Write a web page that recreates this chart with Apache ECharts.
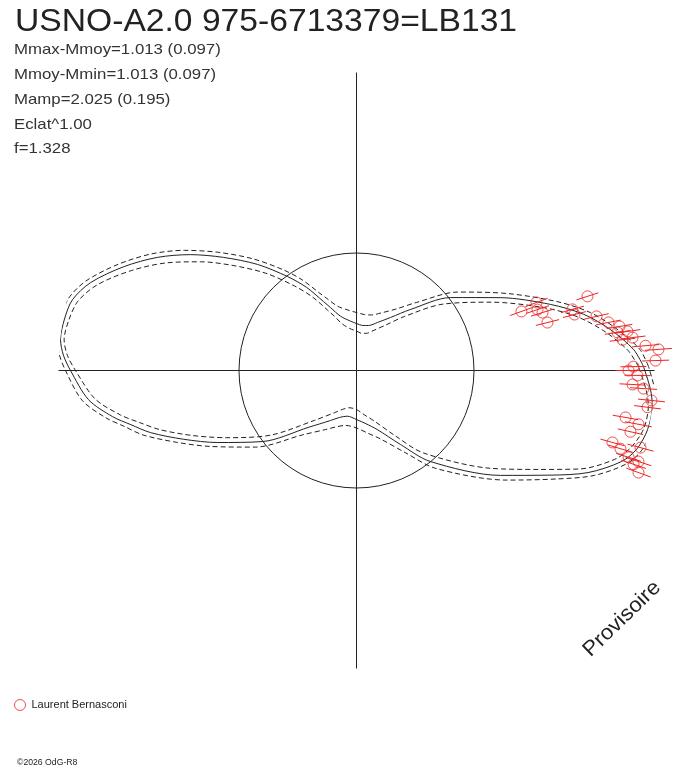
<!DOCTYPE html>
<html>
<head>
<meta charset="utf-8">
<script src="https://cdn.jsdelivr.net/npm/echarts@6/dist/echarts.min.js"></script>
<style>
html,body{margin:0;padding:0;background:#fff;}
#chart{width:688px;height:768px;}
</style>
</head>
<body>
<div id="chart"></div>
<script>
// ---- data (radius in chart units, angle in degrees, counter-clockwise from east) ----
const modelAngles = [0.8, 4.3, 9.2, 13.9, 18.8, 26.9, 37.8, 48.5, 57.3, 66.4, 75, 82, 90, 96.9, 106.4, 112.4, 115.6, 121, 126.3, 133, 139.6, 145.1, 150.4, 156, 161.7, 166, 170, 174, 177, 180, 186.2, 190.7, 193.5, 196.8, 201.7, 207.4, 217.1, 230, 242.5, 250, 258.5, 270, 280, 289.3, 300.7, 309, 323.9, 331.6, 336.2, 341, 344.3, 348.5, 353.1, 356.3];
const modelRadius = [287, 278, 257, 234, 205, 161, 119, 81.5, 63, 52.4, 46.6, 45.5, 47, 49.7, 56.6, 68, 76.5, 97, 116.6, 145, 174.5, 202.5, 229, 255, 280, 292.7, 296.5, 297.6, 293.5, 286, 269.6, 248.3, 232, 215, 186, 156.5, 117.8, 74, 56.4, 50, 46.6, 49, 54, 62.5, 86, 117, 178, 220, 253, 280, 291, 297, 298, 294.6];
const upperRadius = [292, 284, 263, 241, 213, 170, 128, 91, 73, 63, 57.5, 56.5, 58, 60.5, 67, 78, 86, 106, 125.5, 153, 182.5, 210, 236, 261, 285, 297, 300, 301, 297.5, 291, 276, 255, 239, 223, 194, 165, 127, 84, 66.5, 60, 56, 57.5, 63.5, 72.5, 95.5, 126, 186, 228, 260, 286, 296, 301, 302, 299];
const lowerRadius = [282, 272, 250, 226, 196, 151, 108, 72, 54, 44, 38.5, 37.5, 39.5, 41.5, 48, 59, 67, 86, 105, 133, 162, 190, 218, 246, 273, 287, 292, 294, 289.5, 281, 263, 240, 223, 205, 176, 146, 107, 65, 47.5, 41.5, 38, 39, 45, 53.5, 76, 106, 166, 208, 244, 273, 285, 293, 294, 290];

const obsAngle = [17.8, 19.7, 20.7, 17.3, 14.1, 18.6, 15.8, 14.4, 12.7, 10.8, 8.3, 9.5, 6.6, 8.2, 6.8, 4.9, 4.0, 1.9, 0.8, 0, 359.0, 357.1, 356.4, 354.2, 352.8, 350.1, 349.2, 347.4, 344.3, 343.5, 344.8, 342.3, 342.1, 341.3, 340.1];
const obsRadius = [242.6, 175.2, 192.4, 194.8, 196.9, 191, 224.4, 225.1, 246, 256.5, 263.8, 266.7, 267.8, 273.8, 278, 290.1, 302.7, 299.2, 277, 272, 281, 276.4, 287.6, 296.5, 293.3, 273.1, 287.1, 280.7, 265.9, 275.3, 294.3, 285.6, 296.3, 292.5, 299.9];
const obsError = [11.5, 12, 12, 12, 12, 12, 12, 12, 12.5, 12.5, 13, 13, 13, 13, 13, 13.5, 13.5, 13.5, 13, 13, 13, 13, 13.5, 13.5, 13.5, 13, 13.5, 13, 12.5, 13, 13.5, 13, 13.5, 13, 13];

const referenceCircle = 117.5;
const axisExtent = 298;

const titleText = 'USNO-A2.0 975-6713379=LB131';
const infoLines = ['Mmax-Mmoy=1.013 (0.097)', 'Mmoy-Mmin=1.013 (0.097)', 'Mamp=2.025 (0.195)', 'Eclat^1.00', 'f=1.328'];
const observer = 'Laurent Bernasconi';
const footer = '\u00A92026 OdG-R8';
const stamp = 'Provisoire';

// ---- build series data ----
function closedCurve(radii) {
  const d = modelAngles.map((a, i) => [radii[i], a]);
  d.push([radii[0], modelAngles[0] + 360]);
  return d;
}
const obsData = obsAngle.map((a, i) => [obsRadius[i], a, obsError[i]]);

const FONT = '"Liberation Sans", Arial, sans-serif';
const INK = '#222';
const RED = '#ee2222';

const chart = echarts.init(document.getElementById('chart'), null, {renderer: 'canvas'});

const graphics = [
  {type: 'text', x: 15, y: 22, scaleX: 1.085, scaleY: 1,
   style: {text: titleText, font: '31px ' + FONT, fill: INK, textAlign: 'left', textVerticalAlign: 'middle', align: 'left', verticalAlign: 'middle'}}
];
infoLines.forEach((t, i) => {
  graphics.push({type: 'text', x: 14, y: 50 + i * 24.8, scaleX: 1.12, scaleY: 1,
    style: {text: t, font: '15px ' + FONT, fill: '#333', textAlign: 'left', textVerticalAlign: 'middle', align: 'left', verticalAlign: 'middle'}});
});
graphics.push({type: 'text', x: 622, y: 619, rotation: 0.77, scaleX: 1.06, scaleY: 1,
  style: {text: stamp, font: '21px ' + FONT, fill: INK, textAlign: 'center', textVerticalAlign: 'middle', align: 'center', verticalAlign: 'middle'}});
graphics.push({type: 'text', x: 17, y: 763, scaleX: 1.02, scaleY: 1,
  style: {text: footer, font: '8.5px ' + FONT, fill: INK, textAlign: 'left', textVerticalAlign: 'middle', align: 'left', verticalAlign: 'middle'}});

const option = {
  animation: false,
  backgroundColor: '#ffffff',
  graphic: graphics,
  legend: {
    left: 14, top: 699, padding: 0,
    itemWidth: 13, itemHeight: 11,
    icon: 'circle',
    textStyle: {fontSize: 11, fontFamily: FONT, color: INK},
    data: [{name: observer, itemStyle: {color: 'rgba(0,0,0,0)', borderColor: RED, borderWidth: 1}}]
  },
  polar: {center: [356.5, 370.5], radius: axisExtent},
  angleAxis: {
    type: 'value', min: 0, max: 360, interval: 90, startAngle: 0, clockwise: false,
    axisLine: {show: false}, axisTick: {show: false}, axisLabel: {show: false},
    splitLine: {show: true, lineStyle: {color: INK, width: 1}}
  },
  radiusAxis: {
    type: 'value', min: 0, max: axisExtent, interval: referenceCircle,
    axisLine: {show: false}, axisTick: {show: false}, axisLabel: {show: false},
    splitLine: {show: true, lineStyle: {color: ['rgba(0,0,0,0)', INK, 'rgba(0,0,0,0)', 'rgba(0,0,0,0)'], width: 1}}
  },
  series: [
    {type: 'line', name: 'model', coordinateSystem: 'polar', data: closedCurve(modelRadius), smooth: 0.3,
     showSymbol: false, clip: false, silent: true, lineStyle: {color: INK, width: 1}, z: 2},
    {type: 'line', name: 'model+', coordinateSystem: 'polar', data: closedCurve(upperRadius), smooth: 0.3,
     showSymbol: false, clip: false, silent: true, lineStyle: {color: INK, width: 1, type: [5, 3]}, z: 2},
    {type: 'line', name: 'model-', coordinateSystem: 'polar', data: closedCurve(lowerRadius), smooth: 0.3,
     showSymbol: false, clip: false, silent: true, lineStyle: {color: INK, width: 1, type: [5, 3]}, z: 2},
    {type: 'custom', name: 'errors', coordinateSystem: 'polar', data: obsData, clip: false, silent: true, z: 3,
     encode: {radius: 0, angle: 1},
     renderItem: function (params, api) {
       const r = api.value(0), a = api.value(1), e = api.value(2);
       const p1 = api.coord([r - e, a]);
       const p2 = api.coord([r + e, a]);
       return {type: 'line', shape: {x1: p1[0], y1: p1[1], x2: p2[0], y2: p2[1]}, style: {stroke: RED, lineWidth: 1}};
     }},
    {type: 'scatter', name: observer, coordinateSystem: 'polar', data: obsData, symbol: 'circle', symbolSize: 11,
     clip: false, silent: true, z: 4,
     itemStyle: {color: 'rgba(0,0,0,0)', borderColor: RED, borderWidth: 1}}
  ]
};
chart.setOption(option);
</script>
</body>
</html>
